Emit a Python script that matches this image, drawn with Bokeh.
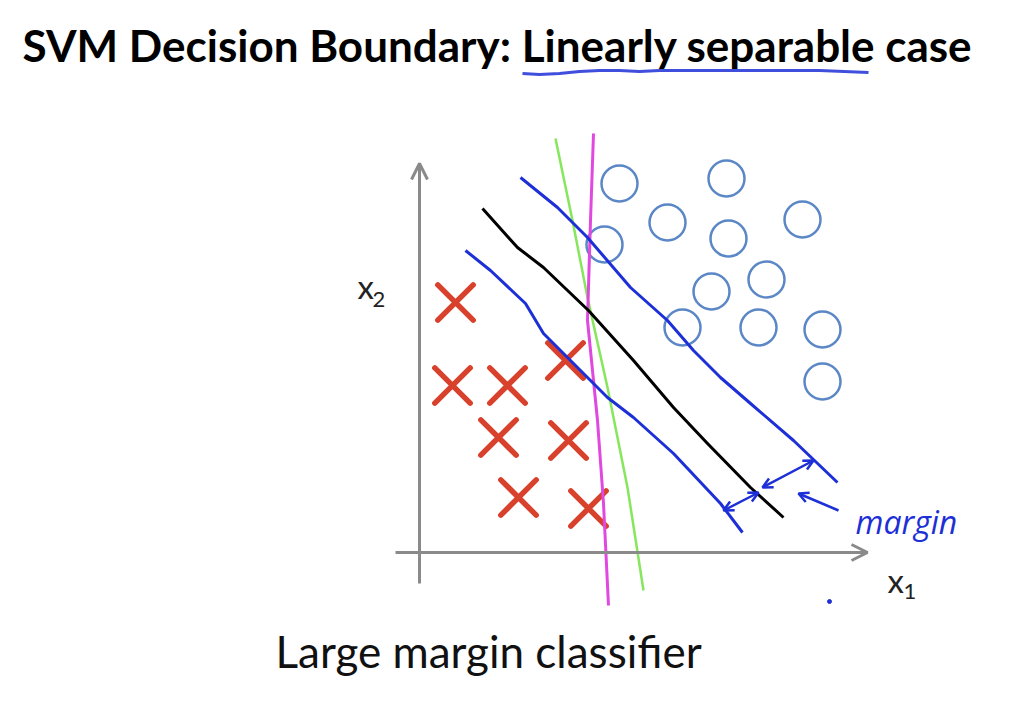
from bokeh.plotting import figure
from bokeh.models import Range1d, Arrow, OpenHead
from bokeh.core.properties import value
from bokeh.embed import file_html
from bokeh.resources import INLINE

# ---- data (x1, x2 units; origin where the two axes cross) ----
cross_x1 = [3.6, 3.3, 8.8, 14.6, 7.9, 14.9, 9.9, 16.9]
cross_x2 = [25.0, 16.7, 16.7, 19.2, 11.5, 11.2, 5.5, 4.4]

circle_x1 = [20.0, 30.7, 24.8, 38.3, 18.5, 30.9, 34.7, 29.2, 26.3, 33.9, 40.3, 40.3]
circle_x2 = [36.9, 37.4, 33.0, 33.3, 30.8, 31.4, 27.3, 26.1, 22.5, 22.5, 22.3, 17.1]

# black: maximum-margin decision boundary
svm_x1 = [6.3, 9.8, 12.4, 16.9, 21.4, 25.4, 28.8, 33.1, 36.4]
svm_x2 = [34.4, 30.5, 28.5, 24.2, 19.2, 14.5, 10.9, 6.5, 3.5]

# blue: margin lines
lower_x1 = [4.6, 7.1, 10.6, 12.4, 15.4, 18.8, 21.4, 25.4, 30.1, 32.3]
lower_x2 = [30.2, 28.2, 24.9, 21.9, 18.9, 15.5, 13.5, 9.9, 4.9, 2.0]
upper_x1 = [10.1, 13.8, 16.8, 21.1, 24.8, 27.4, 30.1, 33.1, 37.4, 41.8]
upper_x2 = [37.5, 34.5, 31.5, 26.5, 23.2, 20.2, 17.5, 14.9, 11.2, 7.0]

# green and magenta: alternative boundaries
green_x1 = [13.6, 15.3, 16.8, 18.8, 20.8, 22.4]
green_x2 = [41.4, 33.2, 25.5, 16.5, 6.5, -3.8]
magenta_x1 = [17.4, 17.1, 16.8, 17.8, 18.4, 18.9]
magenta_x2 = [41.9, 33.2, 23.2, 13.2, 4.9, -5.3]

# title underline
under_x1 = [10.3, 12.0, 14.0, 16.0, 18.0, 20.0, 22.0, 24.0, 28.0, 34.0, 40.0, 44.9]
under_x2 = [47.9, 47.8, 47.9, 48.1, 48.2, 48.2, 48.1, 48.2, 48.2, 48.2, 48.2, 48.0]

title_text = "SVM Decision Boundary: Linearly separable case"
caption_text = "Large margin classifier"

GRAY = "#8a8a8a"
BLUE = "#1d2fd6"
RED = "#d8412c"
CIRC = "#5b87c6"

p = figure(width=1004, height=690, output_backend="svg", toolbar_location=None,
           x_range=Range1d(-41.9, 58.5), y_range=Range1d(-13.8, 55.2),
           x_axis_type=None, y_axis_type=None, min_border=0)
p.grid.visible = False
p.outline_line_color = None
p.background_fill_color = "white"

# axes with arrow heads
p.add_layout(Arrow(x_start=0, y_start=-3.1, x_end=0, y_end=38.9,
                   line_color=GRAY, line_width=3,
                   end=OpenHead(size=16, line_color=GRAY, line_width=3)))
p.add_layout(Arrow(x_start=-2.4, y_start=0, x_end=44.8, y_end=0,
                   line_color=GRAY, line_width=3,
                   end=OpenHead(size=16, line_color=GRAY, line_width=3)))

# points
p.scatter(cross_x1, cross_x2, marker="x", size=50, line_color=RED, line_width=5.5,
          line_cap="round")
p.scatter(circle_x1, circle_x2, marker="circle", size=36, fill_color=None,
          line_color=CIRC, line_width=2.5)

# boundaries
p.line(green_x1, green_x2, line_color="#86e65c", line_width=2.5, line_join="round")
p.line(magenta_x1, magenta_x2, line_color="#e048e0", line_width=3, line_join="round")
p.line(svm_x1, svm_x2, line_color="black", line_width=3, line_join="round")
p.line(lower_x1, lower_x2, line_color=BLUE, line_width=3, line_join="round")
p.line(upper_x1, upper_x2, line_color=BLUE, line_width=3, line_join="round")

# margin arrows
for xs, ys, xe, ye, both in [(30.4, 4.2, 33.9, 6.0, True),
                             (34.3, 6.5, 39.4, 9.2, True),
                             (41.9, 4.2, 37.9, 5.9, False)]:
    p.add_layout(Arrow(x_start=xs, y_start=ys, x_end=xe, y_end=ye,
                       line_color=BLUE, line_width=2.5,
                       start=OpenHead(size=10, line_color=BLUE, line_width=2.5) if both else None,
                       end=OpenHead(size=10, line_color=BLUE, line_width=2.5)))
p.text(x=[43.6], y=[3.1], text=["margin"], text_font=value("Open Sans"),
       text_font_style="italic", text_font_size="32px", text_color=BLUE,
       text_baseline="middle", text_align="left")
p.scatter([41.0], [-4.9], size=4, color=BLUE)

# title underline
p.line(under_x1, under_x2, line_color=BLUE, line_width=3, line_alpha=0.85)

# axis labels
p.text(x=[-6.2], y=[26.7], text=["x"], text_font=value("Lato"), text_font_size="33px",
       text_color="#222222", text_baseline="alphabetic")
p.text(x=[-4.7], y=[25.3], text=["2"], text_font=value("Lato"), text_font_size="22px",
       text_color="#222222", text_baseline="alphabetic")
p.text(x=[46.8], y=[-2.7], text=["x"], text_font=value("Lato"), text_font_size="33px",
       text_color="#222222", text_baseline="alphabetic")
p.text(x=[48.4], y=[-3.9], text=["1"], text_font=value("Lato"), text_font_size="22px",
       text_color="#222222", text_baseline="alphabetic")

# title and caption
p.text(x=[-39.7], y=[50.8], text=[title_text], text_font=value("Lato"),
       text_font_style="bold", text_font_size="44px", text_color="black",
       text_baseline="alphabetic")
p.text(x=[-14.4], y=[-9.8], text=[caption_text], text_font=value("Lato"),
       text_font_size="44px", text_color="#111111", text_baseline="alphabetic")

open("out.html", "w").write(file_html(p, INLINE))
